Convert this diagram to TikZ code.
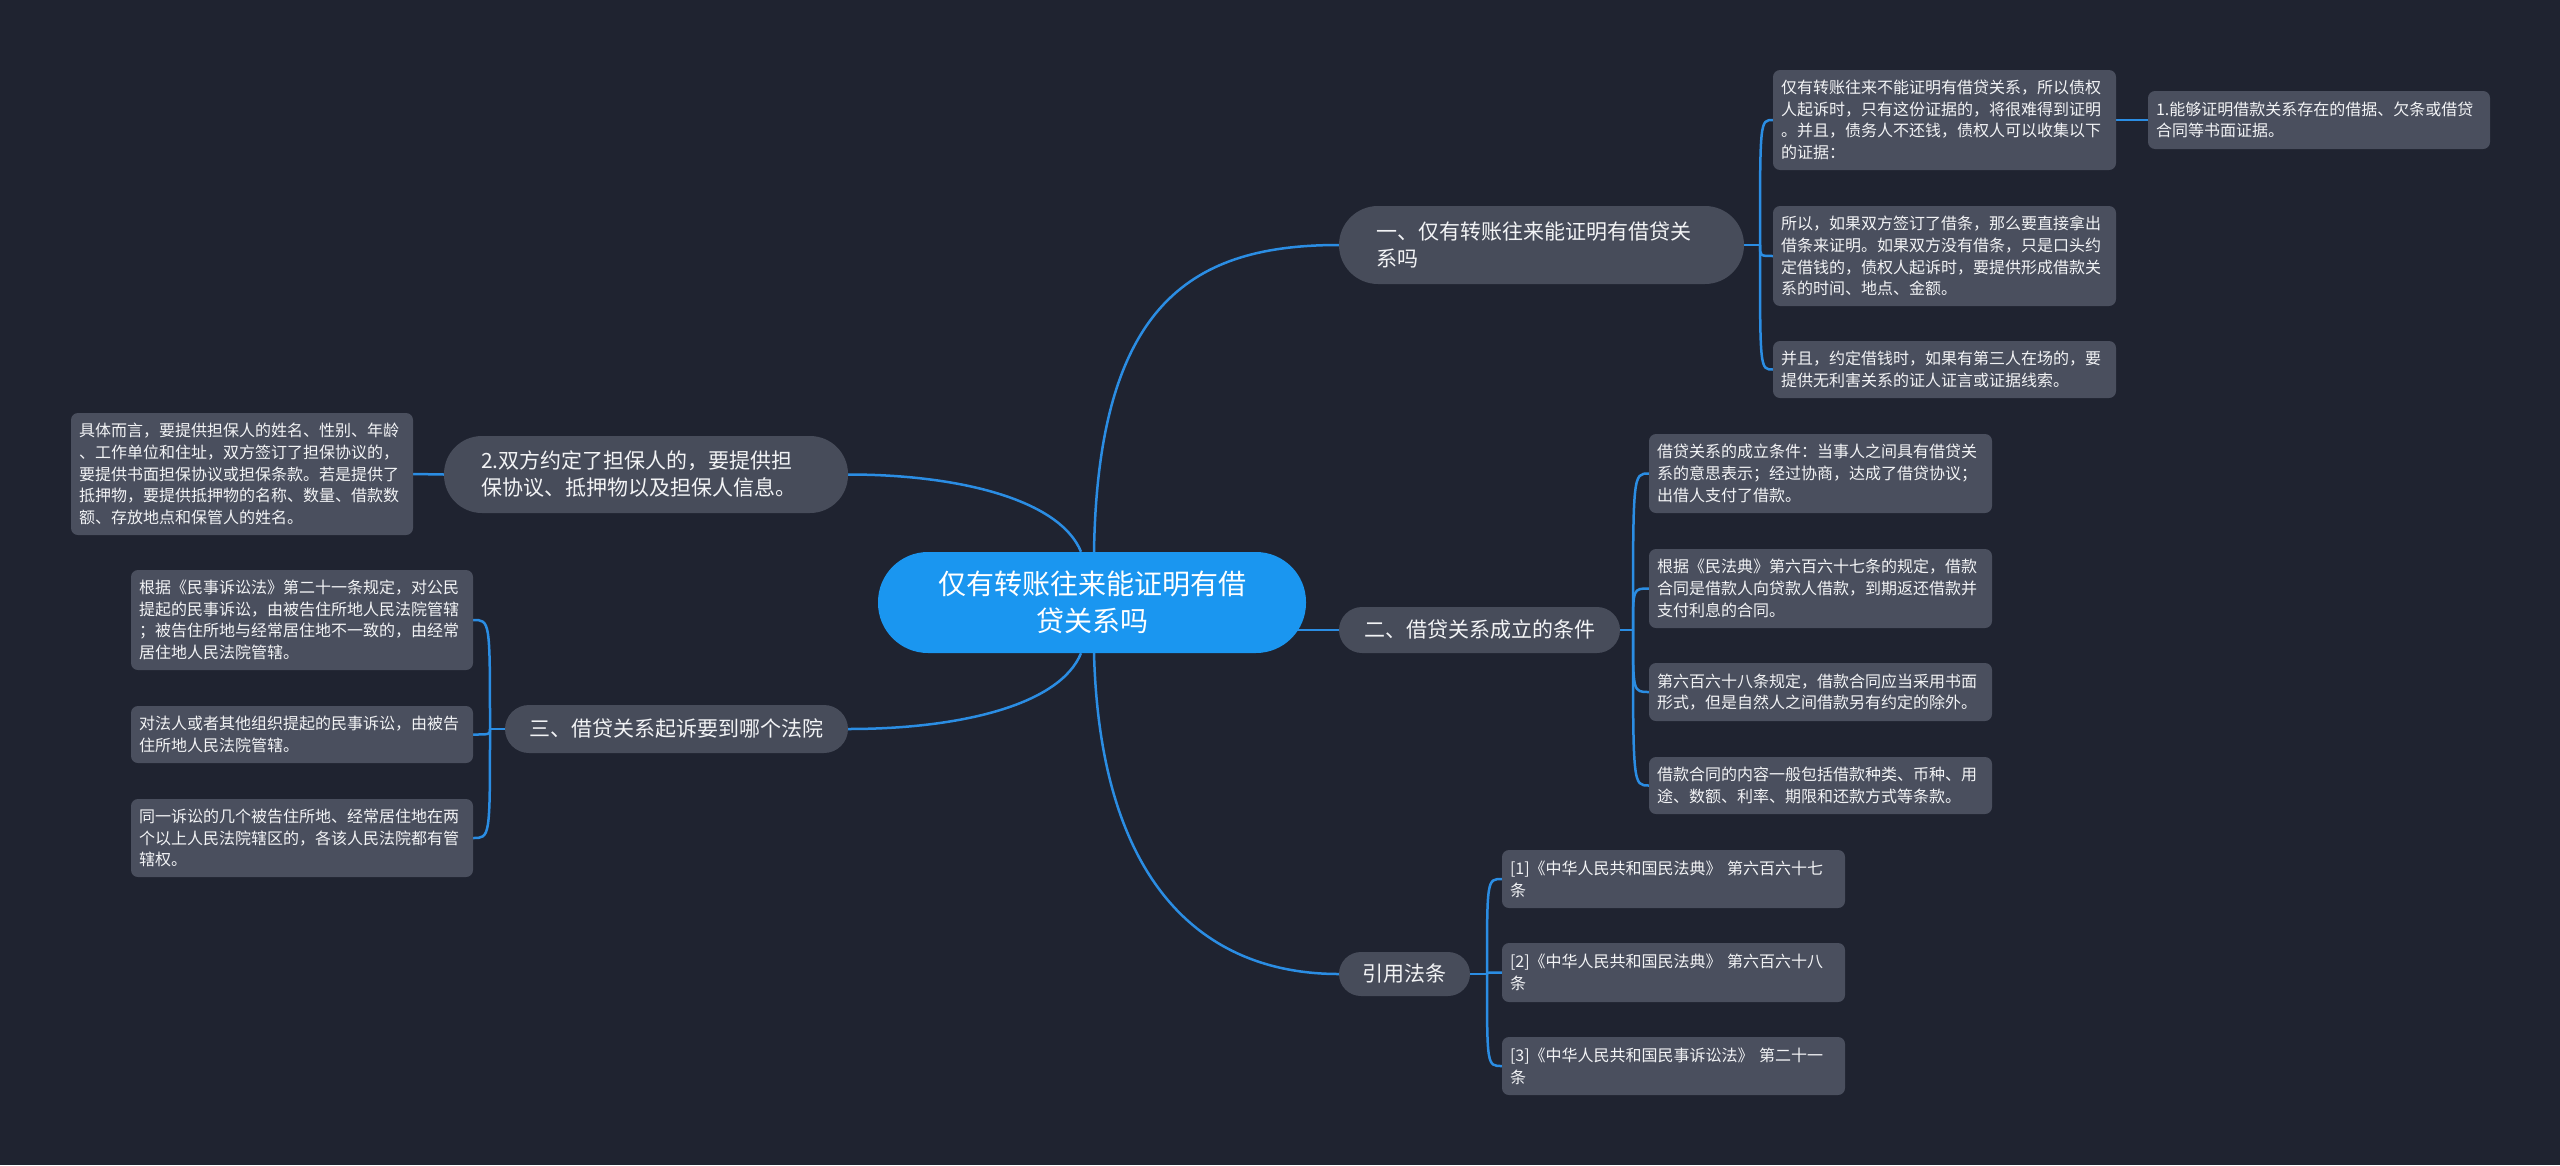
\documentclass[tikz,border=0pt]{standalone}
\usepackage{fontspec}
\setmainfont{Noto Sans CJK SC}
\pgfdeclarelayer{bglayer}
\pgfdeclarelayer{linklayer}
\pgfsetlayers{bglayer,linklayer,main}
\definecolor{bgc}{HTML}{1F2330}
\definecolor{leafc}{HTML}{4A4F5E}
\definecolor{branchc}{HTML}{474C5A}
\definecolor{linkc}{HTML}{2B8DE3}
\definecolor{centerc}{HTML}{1A96F0}
\definecolor{txt}{HTML}{F2F3F5}
\begin{document}
\begin{tikzpicture}[x=1pt,y=-1pt,
  conn/.style={draw=linkc, line width=2.5pt},
  leaf/.style={fill=leafc, rounded corners=7pt, text=txt, text width=327pt,
    inner xsep=8pt, inner ysep=0pt, align=left,
    font=\fontsize{16}{21.7}\selectfont},
  branch/.style={fill=branchc, text=txt, inner sep=0pt,
    font=\fontsize{21}{27}\selectfont},
  centre/.style={fill=centerc, text=white, inner sep=0pt, align=center,
    rounded corners=50pt, font=\fontsize{28}{37.5}\selectfont}]
\useasboundingbox (0,0) rectangle (2560,1165);
\begin{pgfonlayer}{bglayer}
\fill[bgc] (0,0) rectangle (2560,1165);
\end{pgfonlayer}

% centre
\node[centre, minimum width=428pt, minimum height=101pt] (c) at (1092,602.5) {仅有转账往来能证明有借\\贷关系吗};

% branches
\node[branch, text width=330pt, inner xsep=37.5pt, minimum height=78pt, rounded corners=39pt, align=left] (b1) at (1541.5,245) {一、仅有转账往来能证明有借贷关\\系吗};
\node[branch, minimum width=281pt, minimum height=46pt, rounded corners=23pt] (b2) at (1479.5,630) {二、借贷关系成立的条件};
\node[branch, minimum width=131pt, minimum height=44pt, rounded corners=22pt] (b3) at (1404.5,974) {引用法条};
\node[branch, text width=330pt, inner xsep=37pt, minimum height=77pt, rounded corners=38pt, align=left] (bl1) at (646,474.5) {2.双方约定了担保人的，要提供担\\保协议、抵押物以及担保人信息。};
\node[branch, minimum width=343pt, minimum height=48pt, rounded corners=24pt] (bl2) at (676.5,729) {三、借贷关系起诉要到哪个法院};

% leaves of branch 1
\node[leaf, minimum height=100pt] (l1a) at (1944.5,120) {仅有转账往来不能证明有借贷关系，所以债权\\人起诉时，只有这份证据的，将很难得到证明\\。并且，债务人不还钱，债权人可以收集以下\\的证据：};
\node[leaf, minimum height=58pt, text width=326pt] (l1x) at (2319,120) {1.能够证明借款关系存在的借据、欠条或借贷\\合同等书面证据。};
\node[leaf, minimum height=100pt] (l1b) at (1944.5,256) {所以，如果双方签订了借条，那么要直接拿出\\借条来证明。如果双方没有借条，只是口头约\\定借钱的，债权人起诉时，要提供形成借款关\\系的时间、地点、金额。};
\node[leaf, minimum height=57pt] (l1c) at (1944.5,369.5) {并且，约定借钱时，如果有第三人在场的，要\\提供无利害关系的证人证言或证据线索。};

% leaves of branch 2
\node[leaf, minimum height=79pt] (l2a) at (1820.5,473.5) {借贷关系的成立条件：当事人之间具有借贷关\\系的意思表示；经过协商，达成了借贷协议；\\出借人支付了借款。};
\node[leaf, minimum height=79pt] (l2b) at (1820.5,588.5) {根据《民法典》第六百六十七条的规定，借款\\合同是借款人向贷款人借款，到期返还借款并\\支付利息的合同。};
\node[leaf, minimum height=58pt] (l2c) at (1820.5,692) {第六百六十八条规定，借款合同应当采用书面\\形式，但是自然人之间借款另有约定的除外。};
\node[leaf, minimum height=57pt] (l2d) at (1820.5,785.5) {借款合同的内容一般包括借款种类、币种、用\\途、数额、利率、期限和还款方式等条款。};

% leaves of branch 3
\node[leaf, minimum height=58pt] (l3a) at (1673.5,879) {[1]《中华人民共和国民法典》 第六百六十七\\条};
\node[leaf, minimum height=59pt] (l3b) at (1673.5,972.5) {[2]《中华人民共和国民法典》 第六百六十八\\条};
\node[leaf, minimum height=58pt] (l3c) at (1673.5,1066) {[3]《中华人民共和国民事诉讼法》 第二十一\\条};

% left leaves
\node[leaf, minimum height=122pt, text width=326pt] (ll0) at (242,474) {具体而言，要提供担保人的姓名、性别、年龄\\、工作单位和住址，双方签订了担保协议的，\\要提供书面担保协议或担保条款。若是提供了\\抵押物，要提供抵押物的名称、数量、借款数\\额、存放地点和保管人的姓名。};
\node[leaf, minimum height=100pt, text width=326pt] (ll1) at (302,620) {根据《民事诉讼法》第二十一条规定，对公民\\提起的民事诉讼，由被告住所地人民法院管辖\\；被告住所地与经常居住地不一致的，由经常\\居住地人民法院管辖。};
\node[leaf, minimum height=57pt, text width=326pt] (ll2) at (302,734.5) {对法人或者其他组织提起的民事诉讼，由被告\\住所地人民法院管辖。};
\node[leaf, minimum height=78pt, text width=326pt] (ll3) at (302,838) {同一诉讼的几个被告住所地、经常居住地在两\\个以上人民法院辖区的，各该人民法院都有管\\辖权。};

\begin{pgfonlayer}{linklayer}
% centre to branches
\draw[conn] ([xshift=2pt]c.north) .. controls (1098,300) and (1195,245) .. (b1.west);
\draw[conn] (c.center |- b2.west) -- (b2.west);
\draw[conn] ([xshift=2pt]c.south) .. controls (1100,880) and (1200,974) .. (b3.west);
\draw[conn] ([xshift=-11pt]c.north) .. controls (1060,500) and (960,474.5) .. (bl1.east);
\draw[conn] ([xshift=-11pt]c.south) .. controls (1060,705) and (960,729) .. (bl2.east);
% branch 1
\coordinate (j1) at (1760,245);
\draw[conn] (b1.east) -- (j1);
\foreach \l in {l1a,l1b,l1c} \draw[conn] (j1) .. controls (j1 |- \l.west) .. (\l.west);
\draw[conn] (l1a.east) -- (l1x.west);
% branch 2
\coordinate (j2) at (1633,630);
\draw[conn] (b2.east) -- (j2);
\foreach \l in {l2a,l2b,l2c,l2d} \draw[conn] (j2) .. controls (j2 |- \l.west) .. (\l.west);
% branch 3
\coordinate (j3) at (1487,974);
\draw[conn] (b3.east) -- (j3);
\foreach \l in {l3a,l3b,l3c} \draw[conn] (j3) .. controls (j3 |- \l.west) .. (\l.west);
% left branches
\draw[conn] (bl1.west) -- (ll0.east);
\coordinate (j4) at (490,729);
\draw[conn] (bl2.west) -- (j4);
\foreach \l in {ll1,ll2,ll3} \draw[conn] (j4) .. controls (j4 |- \l.east) .. (\l.east);
\end{pgfonlayer}
\end{tikzpicture}
\end{document}
